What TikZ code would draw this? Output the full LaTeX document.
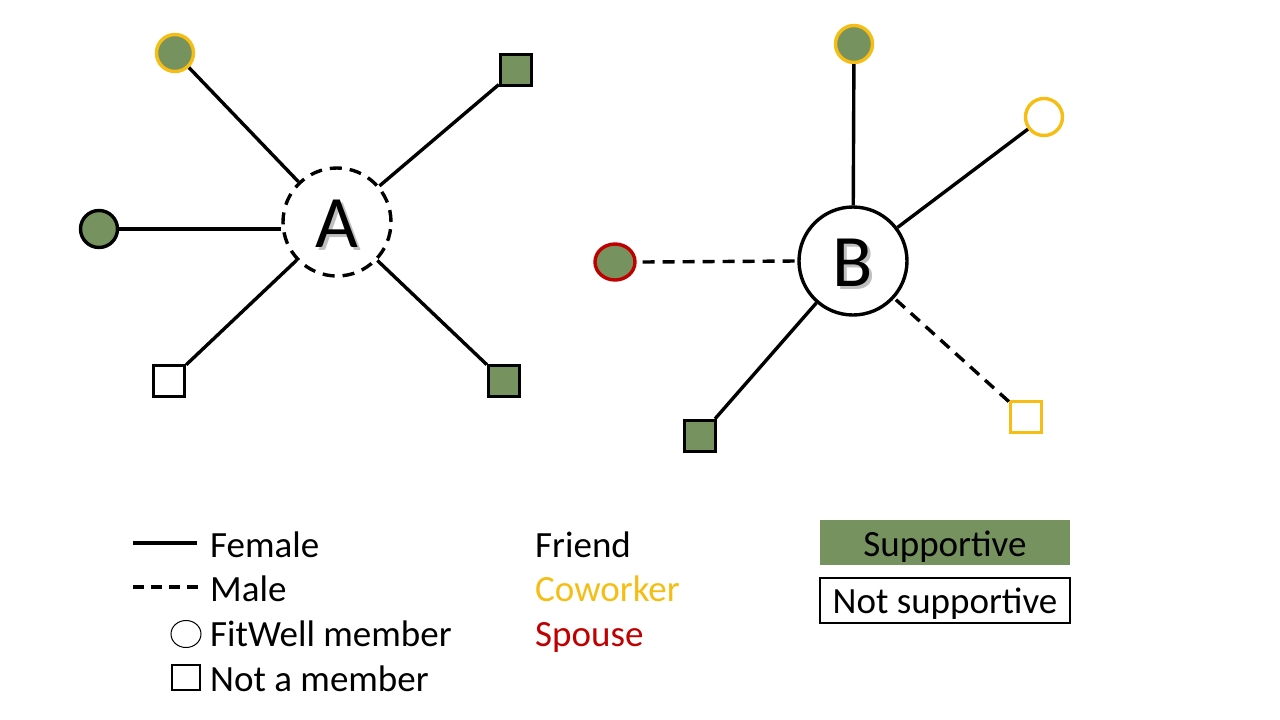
\documentclass[tikz,border=0pt]{standalone}
\usepackage{fontspec}
\setmainfont{Carlito}
\usetikzlibrary{shapes.geometric}
\definecolor{supgreen}{RGB}{118,146,94}
\definecolor{cowork}{RGB}{246,190,20}
\definecolor{spousered}{RGB}{192,0,0}
\tikzset{
  link/.style={line width=3.4pt},
  malelink/.style={line width=3.4pt, dash pattern=on 12pt off 8pt},
  member/.style={circle, minimum size=37pt, inner sep=0pt, line width=3.4pt},
  nonmember/.style={rectangle, minimum size=31pt, inner sep=0pt, line width=3.4pt},
  ego/.style={circle, minimum size=108pt, inner sep=0pt, line width=3.4pt, fill=white},
  egotext/.style={font=\fontsize{74}{80}\selectfont, inner sep=0pt},
  legtext/.style={anchor=base west, inner sep=0pt, font=\fontsize{37}{43}\selectfont},
}
\begin{document}
\begin{tikzpicture}[x=1pt,y=-1pt]
\useasboundingbox (0,0) rectangle (1280,720);
% Ego A
\node[ego, draw, dash pattern=on 12pt off 8pt] (A) at (337,222) {};
\node[egotext, text=black!25] (Ash) at (339.5,226.5) {A};
\node[egotext] (Atxt) at (337,224) {A};
\node[member, draw=cowork, fill=supgreen] (a1) at (175,53) {};
\node[nonmember, draw=black, fill=supgreen] (a2) at (516,70) {};
\node[member, draw=black, fill=supgreen] (a3) at (99,229) {};
\node[nonmember, draw=black, fill=white] (a4) at (169,381) {};
\node[nonmember, draw=black, fill=supgreen] (a5) at (504,381) {};
\draw[link] (a1) -- (A);
\draw[link] (a2) -- (A);
\draw[link] (a3.east) -- (a3.east -| A.west);
\draw[link] (a4) -- (A);
\draw[link] (a5) -- (A);
% Ego B
\node[ego, draw] (B) at (853,261) {};
\node[egotext, text=black!25] (Bsh) at (855.5,265.5) {B};
\node[egotext] (Btxt) at (853,263) {B};
\node[member, draw=cowork, fill=supgreen] (b1) at (854,44) {};
\node[member, draw=cowork, fill=white] (b2) at (1044,117) {};
\node[ellipse, minimum width=40pt, minimum height=36pt, inner sep=0pt, line width=3.4pt, draw=spousered, fill=supgreen] (b3) at (615,262) {};
\node[nonmember, draw=black, fill=supgreen] (b4) at (700,436) {};
\node[nonmember, draw=cowork, fill=white] (b5) at (1026,417) {};
\draw[link] (b1) -- (B);
\draw[link] (b2) -- (B);
\draw[malelink] ([xshift=6pt]b3.east) -- (B.west);
\draw[link] (b4) -- (B);
\draw[malelink] (b5) -- (B);
% Legend: line styles
\coordinate (l1a) at (133,543);
\coordinate (l1b) at (197,543);
\draw[link] (l1a) -- (l1b);
\node[legtext] (tfemale) at (210,557) {Female};
\coordinate (l2a) at (133,587);
\coordinate (l2b) at (199,587);
\draw[line width=3.4pt, dash pattern=on 11pt off 7pt] (l2a) -- (l2b);
\node[legtext] (tmale) at (210,601) {Male};
\node[ellipse, draw, line width=1pt, minimum width=30pt, minimum height=27pt, inner sep=0pt] (lcirc) at (186,634) {};
\node[legtext] (tmember) at (210,646) {FitWell member};
\node[rectangle, draw, line width=1.3pt, minimum width=28pt, minimum height=25pt, inner sep=0pt] (lsq) at (186,677.5) {};
\node[legtext] (tnonmember) at (210,691) {Not a member};
% Legend: relations
\node[legtext] (tfriend) at (535,557) {Friend};
\node[legtext, text=cowork] (tcowork) at (535,601) {Coworker};
\node[legtext, text=spousered] (tspouse) at (535,646) {Spouse};
% Legend: support
\node[rectangle, fill=supgreen, minimum width=250pt, minimum height=45pt, inner sep=0pt] (sbox) at (945,542.5) {};
\node[font=\fontsize{37}{43}\selectfont, anchor=base, inner sep=0pt] (stext) at (945,556) {Supportive};
\node[rectangle, draw, line width=1.3pt, fill=white, minimum width=250pt, minimum height=45pt, inner sep=0pt] (nbox) at (945,600.5) {};
\node[font=\fontsize{37}{43}\selectfont, anchor=base, inner sep=0pt] (ntext) at (945,613) {Not supportive};
\end{tikzpicture}
\end{document}
